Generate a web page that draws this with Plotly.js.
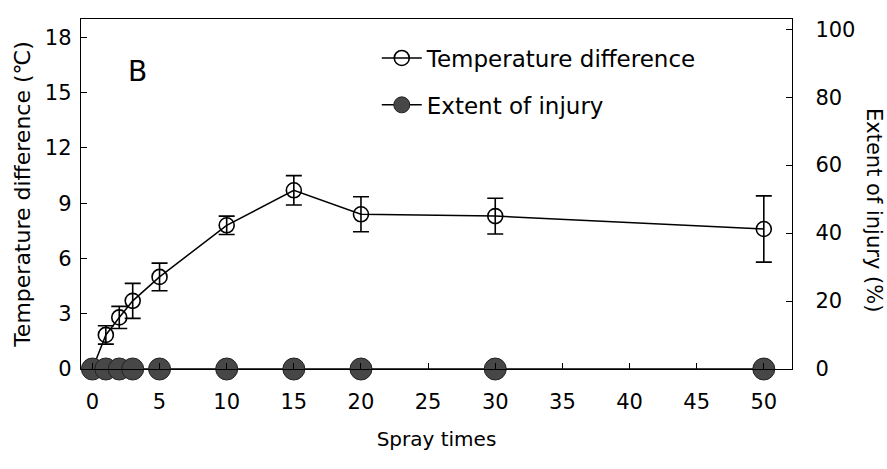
<!DOCTYPE html>
<html>
<head>
<meta charset="utf-8">
<script src="https://cdn.plot.ly/plotly-3.0.1.min.js"></script>
<style>html,body{margin:0;padding:0;background:#fff;}#chart{width:887px;height:469px;}</style>
</head>
<body>
<div id="chart"></div>
<script>
// Data
const sprayTimes = [0, 1, 2, 3, 5, 10, 15, 20, 30, 50];
const tempDiff   = [0, 1.85, 2.8, 3.7, 5.0, 7.8, 9.7, 8.4, 8.3, 7.6];
const tempErr    = [0, 0.5, 0.6, 0.95, 0.75, 0.5, 0.8, 0.95, 0.97, 1.8];
const injury     = [0, 0, 0, 0, 0, 0, 0, 0, 0, 0];
const xTicks  = [0, 5, 10, 15, 20, 25, 30, 35, 40, 45, 50];
const yTicks  = [0, 3, 6, 9, 12, 15, 18];
const y2Ticks = [0, 20, 40, 60, 80, 100];

const FONT = '"DejaVu Sans", "Noto Sans CJK JP", sans-serif';

const traces = [
  {
    x: sprayTimes, y: tempDiff, yaxis: 'y', type: 'scatter', mode: 'lines+markers',
    name: 'Temperature difference', legendgroup: 'a', cliponaxis: false,
    line: {color: '#000', width: 1.5},
    marker: {symbol: 'circle-open', size: 15, color: '#000', line: {width: 1.6, color: '#000'}},
    error_y: {type: 'data', array: tempErr, visible: true, color: '#000', thickness: 1.6, width: 8}
  },
  {
    x: sprayTimes, y: injury, yaxis: 'y2', type: 'scatter', mode: 'lines+markers',
    name: 'Extent of injury', legendgroup: 'b', cliponaxis: false,
    line: {color: '#000', width: 1.5},
    marker: {symbol: 'circle', size: 22, color: '#474747', line: {width: 1, color: '#222'}}
  }
];

const layout = {
  width: 887, height: 469,
  margin: {l: 81, r: 95, t: 19, b: 100},
  paper_bgcolor: '#fff', plot_bgcolor: '#fff',
  font: {family: FONT, color: '#000', size: 20},
  showlegend: true,
  legend: {
    x: 0.416, y: 0.95, xanchor: 'left', yanchor: 'top',
    font: {family: FONT, size: 23, color: '#000'},
    bgcolor: 'rgba(0,0,0,0)', tracegroupgap: 14, itemwidth: 40
  },
  xaxis: {
    range: [-0.85, 52.1], tickvals: xTicks, ticks: 'inside', ticklen: 6, tickwidth: 1,
    tickcolor: '#000', showline: true, linecolor: '#000', linewidth: 1.2, mirror: true,
    showgrid: false, zeroline: false, ticklabelstandoff: 14,
    tickfont: {family: FONT, size: 21},
    title: {text: 'Spray times', font: {family: FONT, size: 20}, standoff: 18}
  },
  yaxis: {
    range: [0, 19], tickvals: yTicks, ticks: 'inside', ticklen: 6, tickwidth: 1,
    tickcolor: '#000', showline: true, linecolor: '#000', linewidth: 1.2,
    showgrid: false, zeroline: false, ticklabelstandoff: 4,
    tickfont: {family: FONT, size: 21},
    title: {text: 'Temperature difference (℃)', font: {family: FONT, size: 22}, standoff: 8}
  },
  yaxis2: {
    range: [0, 103], tickvals: y2Ticks, overlaying: 'y', side: 'right',
    ticks: 'inside', ticklen: 6, tickwidth: 1, tickcolor: '#000',
    showline: true, linecolor: '#000', linewidth: 1.2,
    showgrid: false, zeroline: false, ticklabelstandoff: 18,
    tickfont: {family: FONT, size: 21}
  },
  annotations: [
    {text: 'B', xref: 'paper', yref: 'paper', x: 0.08, y: 0.85, xanchor: 'center', yanchor: 'middle',
     showarrow: false, font: {family: FONT, size: 28, color: '#000'}},
    {text: 'Extent of injury (%)', xref: 'paper', yref: 'paper', x: 1.115, y: 0.455,
     xanchor: 'center', yanchor: 'middle', textangle: 90, showarrow: false,
     font: {family: FONT, size: 21, color: '#000'}}
  ]
};

Plotly.newPlot('chart', traces, layout, {displayModeBar: false, staticPlot: true});
</script>
</body>
</html>
